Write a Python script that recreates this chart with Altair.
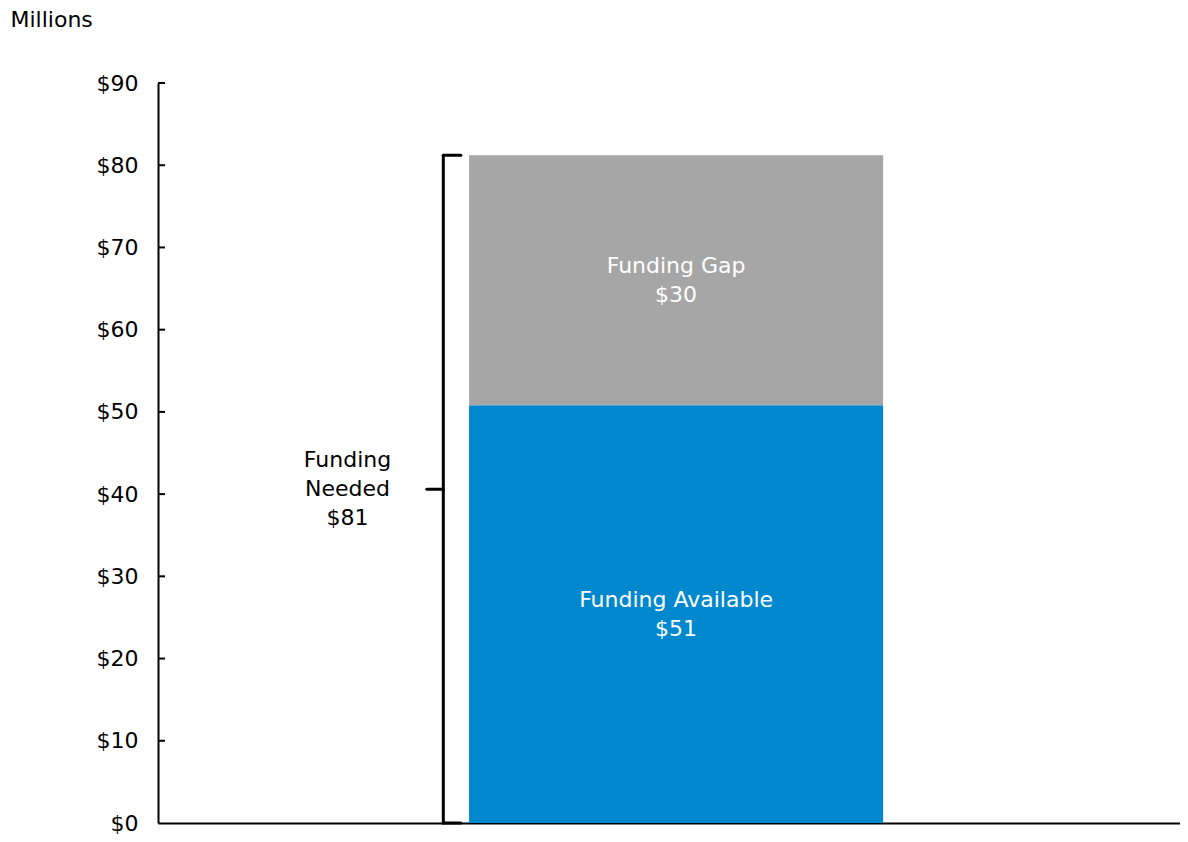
import altair as alt
import pandas as pd

# Data (millions)
segments = ["Funding Available", "Funding Gap"]
seg_start = [0, 50.8]
seg_end = [50.8, 81.2]
seg_labels = [["Funding Available", "$51"], ["Funding Gap", "$30"]]
seg_colors = ["#0088CE", "#A6A6A6"]
total_needed = 81.2
total_label = ["Funding", "Needed", "$81"]
y_ticks = [0, 10, 20, 30, 40, 50, 60, 70, 80, 90]

# horizontal layout positions on a hidden scale
bar_x0, bar_x1 = 3.02, 7.04
brace_x, brace_hook_r, brace_hook_l = 2.77, 2.94, 2.61
needed_text_x = 1.84

FONT = "DejaVu Sans"
FS = 22
LH = 29

PLOT_W = 1022
PLOT_H = 740

bars = pd.DataFrame({
    "segment": segments,
    "y0": seg_start,
    "y1": seg_end,
    "x0": [bar_x0] * 2,
    "x1": [bar_x1] * 2,
    "label": seg_labels,
    "mid": [(a + b) / 2 for a, b in zip(seg_start, seg_end)],
    "xm": [(bar_x0 + bar_x1) / 2] * 2,
})

xs = alt.Scale(domain=[0, 10 * PLOT_W / 1030], nice=False, zero=False)
ys = alt.Scale(domain=[0, 90], nice=False)

base_y_axis = alt.Axis(
    values=y_ticks, format="$,.0f", tickSize=0, grid=False,
    domainColor="black", domainWidth=2, labelPadding=20,
    labelFont=FONT, labelFontSize=FS, labelColor="black",
    title="Millions", titleAngle=0, titleAlign="left", titleBaseline="alphabetic",
    titleX=-148, titleY=-57, titleFont=FONT, titleFontSize=FS,
    titleFontWeight="normal", titleColor="black",
)
x_axis = alt.Axis(labels=False, ticks=False, grid=False, title=None,
                  domainColor="black", domainWidth=2)

bar = alt.Chart(bars).mark_bar().encode(
    x=alt.X("x0:Q", scale=xs, axis=x_axis),
    x2="x1:Q",
    y=alt.Y("y0:Q", scale=ys, axis=base_y_axis),
    y2="y1:Q",
    color=alt.Color("segment:N", scale=alt.Scale(domain=segments, range=seg_colors), legend=None),
)

bar_text = alt.Chart(bars).mark_text(
    font=FONT, fontSize=FS, color="white", lineHeight=LH, baseline="middle",
    align="center", dy=-LH / 2
).encode(
    x=alt.X("xm:Q", scale=xs),
    y=alt.Y("mid:Q", scale=ys),
    text="label",
)

ticks = alt.Chart(pd.DataFrame({"v": y_ticks[1:]})).mark_rule(color="black", strokeWidth=2).encode(
    x=alt.value(0), x2=alt.value(7), y=alt.Y("v:Q", scale=ys)
)

brace = pd.DataFrame({
    "xa": [brace_x, brace_x, brace_x, brace_hook_l],
    "xb": [brace_x, brace_hook_r, brace_hook_r, brace_x],
    "ya": [0, total_needed, 0, total_needed / 2],
    "yb": [total_needed, total_needed, 0, total_needed / 2],
})
brace_rules = alt.Chart(brace).mark_rule(color="black", strokeWidth=3, strokeCap="round").encode(
    x=alt.X("xa:Q", scale=xs), x2="xb:Q",
    y=alt.Y("ya:Q", scale=ys), y2="yb:Q",
)

needed = alt.Chart(pd.DataFrame({"x": [needed_text_x], "y": [total_needed / 2], "t": [total_label]})).mark_text(
    font=FONT, fontSize=FS, color="black", lineHeight=LH, baseline="middle",
    align="center", dy=-LH
).encode(
    x=alt.X("x:Q", scale=xs), y=alt.Y("y:Q", scale=ys), text="t"
)

chart = alt.layer(bar, bar_text, ticks, brace_rules, needed).properties(
    width=PLOT_W, height=PLOT_H,
    autosize=alt.AutoSizeParams(type="none"),
    padding={"left": 150, "top": 75, "right": 0, "bottom": 11},
    background="white",
).configure_view(stroke=None)

chart.save("out.html", embed_options={"renderer": "svg", "actions": False})
